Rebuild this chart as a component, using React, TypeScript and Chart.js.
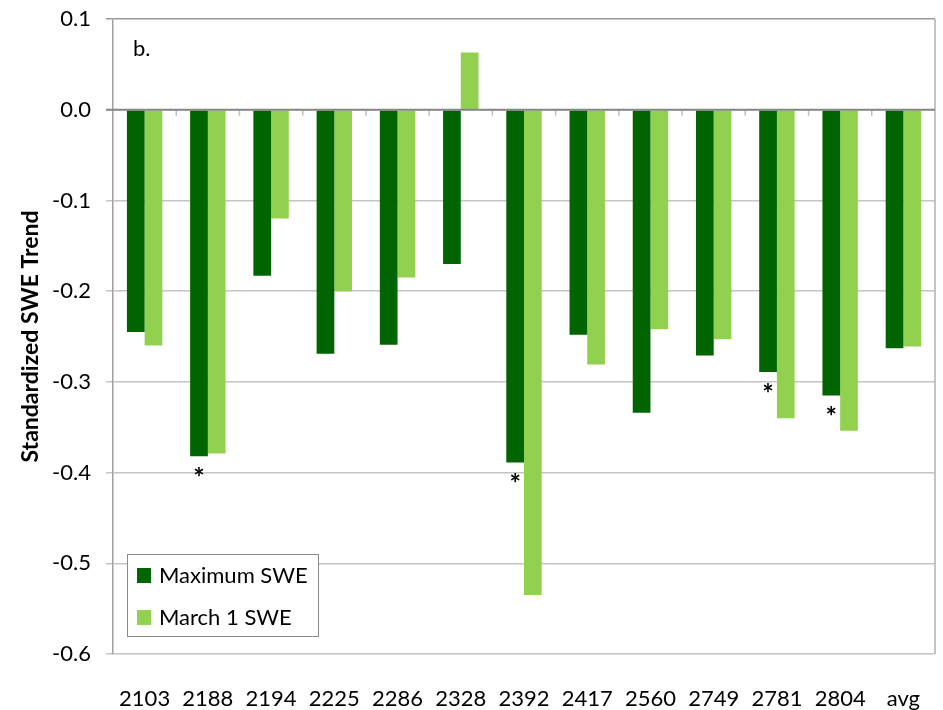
import React, { useEffect, useRef } from "react";
import { Chart, registerables } from "chart.js";

Chart.register(...registerables);

const categories = ["2103", "2188", "2194", "2225", "2286", "2328", "2392", "2417", "2560", "2749", "2781", "2804", "avg"];
const maximumSWE = [-0.245, -0.382, -0.183, -0.269, -0.259, -0.170, -0.389, -0.248, -0.334, -0.271, -0.289, -0.315, -0.263];
const march1SWE = [-0.260, -0.379, -0.120, -0.200, -0.185, 0.063, -0.535, -0.281, -0.242, -0.253, -0.340, -0.354, -0.261];
const significantMax = [false, true, false, false, false, false, true, false, false, false, true, true, false];
const yTicks = [0.1, 0.0, -0.1, -0.2, -0.3, -0.4, -0.5, -0.6];

const DARK = "#006400";
const LIGHT = "#92D050";
const FONT = "Lato, 'Open Sans', sans-serif";

const decorPlugin = {
  id: "decor",
  beforeDatasetsDraw(chart: any) {
    const { ctx, chartArea, scales } = chart;
    const y0 = scales.y.getPixelForValue(0);
    const n = categories.length;
    const w = (chartArea.right - chartArea.left) / n;
    ctx.save();
    ctx.strokeStyle = "#b0b0b0";
    ctx.lineWidth = 1.5;
    ctx.beginPath();
    ctx.moveTo(chartArea.right, chartArea.top);
    ctx.lineTo(chartArea.right, chartArea.bottom);
    ctx.stroke();
    ctx.strokeStyle = "#bdbdbd";
    ctx.lineWidth = 1.5;
    for (let i = 1; i < n; i++) {
      const x = chartArea.left + i * w;
      ctx.beginPath();
      ctx.moveTo(x, y0);
      ctx.lineTo(x, y0 + 6);
      ctx.stroke();
    }
    ctx.restore();
  },
  afterDatasetsDraw(chart: any) {
    const { ctx, chartArea, scales } = chart;
    const y0 = scales.y.getPixelForValue(0);
    ctx.save();
    ctx.strokeStyle = "#878787";
    ctx.lineWidth = 2;
    ctx.beginPath();
    ctx.moveTo(chartArea.left - 7, y0);
    ctx.lineTo(chartArea.right, y0);
    ctx.stroke();

    const meta = chart.getDatasetMeta(0);
    ctx.fillStyle = "#000";
    ctx.font = `bold 27px ${FONT}`;
    ctx.textAlign = "center";
    ctx.textBaseline = "middle";
    significantMax.forEach((s, i) => {
      if (!s) return;
      const el = meta.data[i];
      ctx.fillText("*", el.x, el.y + 22);
    });

    ctx.font = `22px ${FONT}`;
    ctx.textAlign = "left";
    ctx.textBaseline = "middle";
    ctx.fillText("b.", chartArea.left + 20, chartArea.top + 30);

    const lx = chartArea.left + 14;
    const ly = chartArea.bottom - 100;
    const lw = 191;
    const lh = 82;
    ctx.fillStyle = "#fff";
    ctx.fillRect(lx, ly, lw, lh);
    ctx.strokeStyle = "#8a8a8a";
    ctx.lineWidth = 1;
    ctx.strokeRect(lx + 0.5, ly + 0.5, lw, lh);
    const items = [
      { label: "Maximum SWE", color: DARK },
      { label: "March 1 SWE", color: LIGHT },
    ];
    items.forEach((it, k) => {
      const cy = ly + 21 + k * 42;
      ctx.fillStyle = it.color;
      ctx.fillRect(lx + 10, cy - 7, 14, 15);
      ctx.fillStyle = "#000";
      ctx.font = `22px ${FONT}`;
      ctx.fillText(it.label, lx + 32, cy + 1);
    });
    ctx.restore();
  },
};

export default function App() {
  const ref = useRef<HTMLCanvasElement | null>(null);
  useEffect(() => {
    if (!ref.current) return;
    const chart = new Chart(ref.current, {
      type: "bar",
      data: {
        labels: categories,
        datasets: [
          { label: "Maximum SWE", data: maximumSWE, backgroundColor: DARK, barPercentage: 1, categoryPercentage: 0.56 },
          { label: "March 1 SWE", data: march1SWE, backgroundColor: LIGHT, barPercentage: 1, categoryPercentage: 0.56 },
        ],
      },
      options: {
        animation: false,
        responsive: false,
        maintainAspectRatio: false,
        layout: { padding: { top: 19, right: 8, left: 0, bottom: 0 } },
        plugins: { legend: { display: false }, tooltip: { enabled: false } },
        scales: {
          x: {
            grid: { display: false },
            border: { display: false },
            ticks: { color: "#000", font: { family: FONT, size: 22 }, padding: 24, maxRotation: 0 },
            afterFit: (s: any) => { s.height = 56; s.paddingLeft = 0; s.paddingRight = 0; },
          },
          y: {
            min: -0.6,
            max: 0.1,
            afterBuildTicks: (s: any) => { s.ticks = yTicks.map((v) => ({ value: v })); },
            ticks: {
              color: "#000",
              font: { family: FONT, size: 22 },
              padding: 15,
              callback: (v: any) => (Math.abs(Number(v)) < 1e-9 ? "0.0" : Number(v).toFixed(1)),
            },
            grid: {
              color: (c: any) => (c.tick && Math.abs(c.tick.value - 0.1) < 1e-9 ? "#999" : "#c4c4c4"),
              lineWidth: 1.5,
              tickLength: 7,
              drawTicks: true,
            },
            border: { display: true, color: "#a0a0a0", width: 1.5 },
            title: {
              display: true,
              text: "Standardized SWE Trend",
              color: "#000",
              font: { family: FONT, size: 23, weight: "bold" },
              padding: { top: 17, bottom: 0 },
            },
            afterFit: (s: any) => { s.width = 113; s.paddingTop = 0; s.paddingBottom = 0; },
          },
        },
      },
      plugins: [decorPlugin],
    });
    return () => chart.destroy();
  }, []);
  return (
    <div style={{ position: "fixed", left: 0, top: 0, width: 943, height: 710, background: "#fff" }}>
      <canvas ref={ref} width={943} height={710} style={{ width: 943, height: 710 }} />
    </div>
  );
}
